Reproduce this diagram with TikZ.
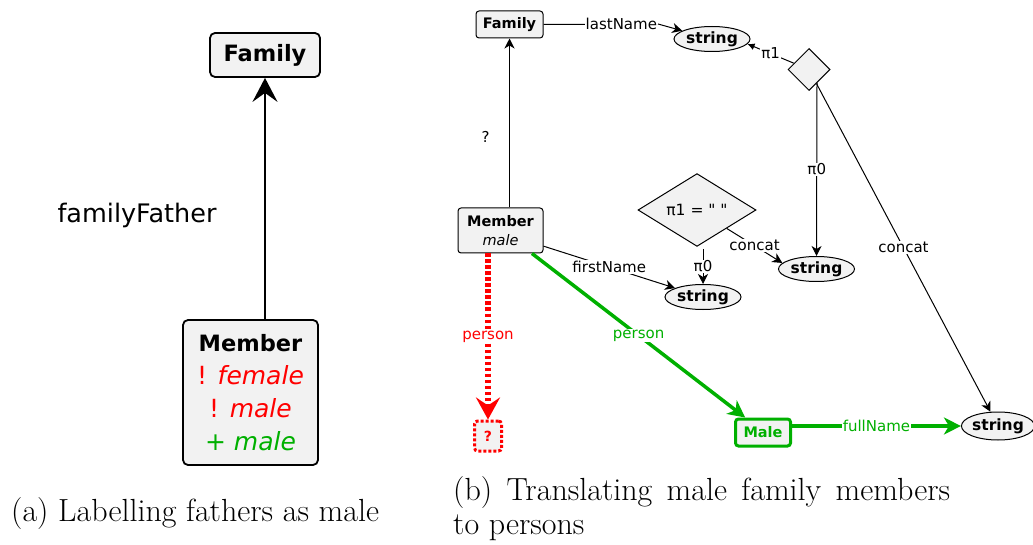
\documentclass[tikz,border=0pt]{standalone}
\usepackage{fontspec}
\newfontfamily\dv{DejaVu Sans}
\usetikzlibrary{arrows.meta,shapes.geometric}
\definecolor{gfill}{HTML}{F2F2F2}
\definecolor{dgreen}{HTML}{00B000}
\definecolor{dred}{HTML}{FF0000}
\tikzset{
  bigbox/.style={draw, line width=1.8pt, rounded corners=5pt, fill=gfill, inner sep=0pt},
  sbox/.style={draw, line width=1pt, rounded corners=3pt, fill=gfill, inner sep=0pt, font=\dv\fontsize{14.5}{19}\selectfont},
  strell/.style={draw, ellipse, line width=1pt, fill=gfill, inner sep=0pt, minimum width=76pt, minimum height=25pt, font=\dv\fontsize{15.5}{17}\selectfont\bfseries},
  dmd/.style={draw, diamond, line width=1pt, fill=gfill, inner sep=0pt},
  edge/.style={line width=1pt, -{Stealth[length=10pt,width=10pt,inset=3pt]}},
  lbl/.style={fill=white, inner sep=1pt, font=\dv\fontsize{15}{18}\selectfont},
  gedge/.style={dgreen, line width=3.5pt, -{Stealth[length=17pt,width=17pt,inset=5pt]}},
}
\begin{document}
\begin{tikzpicture}[x=1pt,y=-1pt]
\useasboundingbox (0,0) rectangle (1033,545);
% ---------- left panel ----------
\node[bigbox, minimum width=110pt, minimum height=44pt, font=\dv\fontsize{22.5}{27}\selectfont\bfseries] (LF) at (265,55) {Family};
\node[bigbox, minimum width=135pt, minimum height=145pt, align=center, font=\dv\fontsize{25}{33}\selectfont] (LM) at (250.5,392.5)
  {{\fontsize{22.5}{33}\selectfont\bfseries Member}\\
   \textcolor{dred}{! \itshape female}\\
   \textcolor{dred}{! \itshape male}\\
   \textcolor{dgreen}{+ \itshape male}};
\draw[line width=1.8pt, -{Stealth[length=24pt,width=25pt,inset=9pt]}] (LF.south |- LM.north) -- (LF.south);
\node[font=\dv\fontsize{25.5}{30}\selectfont] (ff) at (137,215) {familyFather};
\node[anchor=base west, font=\fontsize{32}{34}\selectfont, inner sep=0pt] (capa) at (11,521.5) {(a) Labelling fathers as male};
% ---------- right panel ----------
\node[sbox, minimum width=67pt, minimum height=27pt] (RF) at (509.5,24.5) {\bfseries Family};
\node[sbox, minimum width=85pt, minimum height=45pt, align=center] (RM) at (500.5,230.5) {\bfseries Member\\\itshape male};
\node[strell] (S1) at (712,39) {string};
\node[strell] (S2) at (703,297) {string};
\node[strell] (S3) at (816.5,269) {string};
\node[strell, minimum width=68pt, minimum height=28pt] (S4) at (998,426) {string};
\node[dmd, minimum width=42pt, minimum height=42pt] (D1) at (809,69.5) {};
\node[dmd, minimum width=118pt, minimum height=40pt, font=\dv\fontsize{15.5}{18}\selectfont] (D2) at (697,210) {π1 = " "};
\node[draw=dred, dash pattern=on 3pt off 2pt, line width=3pt, rounded corners=3pt, fill=gfill, inner sep=0pt, minimum width=27pt, minimum height=30pt, text=dred, font=\dv\fontsize{14}{17}\selectfont\bfseries] (Q) at (488,436) {?};
\node[draw=dgreen, line width=3pt, rounded corners=3pt, fill=gfill, inner sep=0pt, minimum width=55pt, minimum height=27pt, text=dgreen, font=\dv\fontsize{14.5}{17}\selectfont\bfseries] (ML) at (763,432.5) {Male};
\coordinate (c1) at (658,24);
% edges
\draw[line width=1pt] (RF.east) -- node[lbl, pos=0.68] {lastName} (c1);
\draw[edge] (c1) -- (S1);
\draw[line width=1pt, -{Latex[length=7pt,width=7pt]}] (D1) -- node[lbl] {π1} (S1.-8);
\draw[edge] ([shift={(8,-8)}]D1.south) -- node[lbl] {π0} (S3.north);
\draw[edge] (D1) -- node[lbl] {concat} (S4);
\draw[edge] (RF.south |- RM.north) -- node[pos=0.42, xshift=-24pt, font=\dv\fontsize{15}{18}\selectfont] {?} (RF.south);
\draw[edge] (RM.-20) -- node[lbl] {firstName} (S2);
\draw[edge] ([shift={(6,2)}]D2.south) -- node[lbl] {π0} (S2.north);
\draw[edge] (D2) -- node[lbl] {concat} (S3.170);
\draw[dred, line width=6pt, dash pattern=on 3.3pt off 2.7pt, -{Stealth[length=22pt,width=24pt,inset=8pt,sep=0pt]}] (Q.north |- RM.south) -- node[lbl, text=dred, solid] {person} (Q.north);
\draw[gedge] ([xshift=31.5pt]RM.south) -- node[lbl, text=dgreen] {person} (ML.140);
\draw[gedge] (ML.east |- S4.west) -- node[lbl, text=dgreen] {fullName} (S4.west);
\node[anchor=base west, align=left, font=\fontsize{32}{33.5}\selectfont, inner sep=0pt] (capb) at (453,534) {\makebox[497pt][s]{(b) Translating male family members}\\to persons};
\end{tikzpicture}
\end{document}
